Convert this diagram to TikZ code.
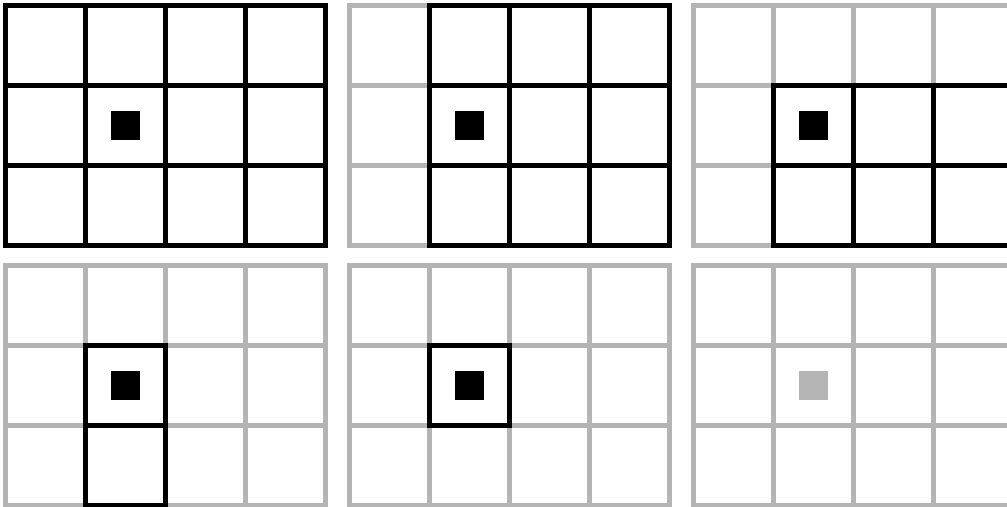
\documentclass[tikz,border=0pt]{standalone}
\usepackage{xcolor}
\usepackage{tikz}
\definecolor{faded}{HTML}{B4B4B4}

\begin{document}
\begin{tikzpicture}[x=2cm,y=2cm,line width=3.55pt,
 faint/.style={draw=faded,step=2cm},
 strong/.style={draw=black,step=2cm},
 cellmark/.style={fill=black,minimum size=0.725cm,inner sep=0pt}]
 \path[use as bounding box] (-0.0725,0.0725) rectangle (12.515,-6.265);
 \clip (-0.0725,0.0725) rectangle (12.515,-6.265);
 % grey grids behind panels 2--6
 \foreach \px/\py in {4.3/0,8.6/0,0/-3.25,4.3/-3.25,8.6/-3.25}
  \draw[faint,shift={(\px,\py)}] (0,0) grid (4,-3) (0,0) rectangle (4,-3);
 % panel 1
 \draw[strong] (0,0) grid (4,-3) (0,0) rectangle (4,-3);
 \node[cellmark] (dot1) at (1.5,-1.5) {};
 % panel 2
 \begin{scope}[shift={(4.3,0)}]
  \draw[strong] (1,0) grid (4,-3) (1,0) rectangle (4,-3);
  \node[cellmark] (dot2) at (1.5,-1.5) {};
 \end{scope}
 % panel 3
 \begin{scope}[shift={(8.6,0)}]
  \draw[strong] (1,-1) grid (4,-3) (1,-1) rectangle (4,-3);
  \node[cellmark] (dot3) at (1.5,-1.5) {};
 \end{scope}
 % panel 4
 \begin{scope}[shift={(0,-3.25)}]
  \draw[strong] (1,-1) grid (2,-3) (1,-1) rectangle (2,-3);
  \node[cellmark] (dot4) at (1.5,-1.5) {};
 \end{scope}
 % panel 5
 \begin{scope}[shift={(4.3,-3.25)}]
  \draw[strong] (1,-1) rectangle (2,-2);
  \node[cellmark] (dot5) at (1.5,-1.5) {};
 \end{scope}
 % panel 6
 \begin{scope}[shift={(8.6,-3.25)}]
  \node[cellmark,fill=faded] (dot6) at (1.5,-1.5) {};
 \end{scope}
\end{tikzpicture}
\end{document}
